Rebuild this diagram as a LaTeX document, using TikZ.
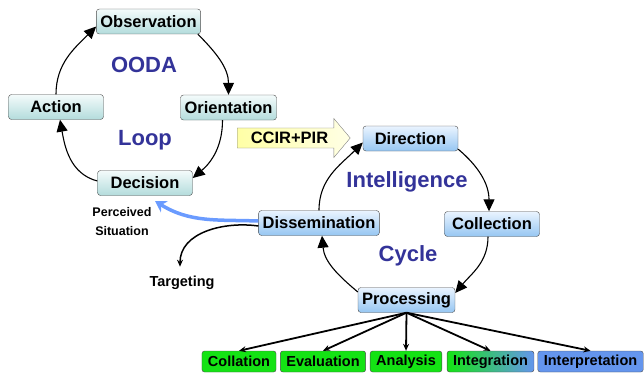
\documentclass[tikz,border=0pt]{standalone}
\usepackage{fontspec}
\setmainfont{Liberation Sans}
\usetikzlibrary{arrows.meta,shapes.arrows}

\definecolor{oodatop}{HTML}{F4FBFB}
\definecolor{oodabot}{HTML}{B3DCDC}
\definecolor{inttop}{HTML}{EAF4FF}
\definecolor{intbot}{HTML}{96C6F2}
\definecolor{grn}{HTML}{14E314}
\definecolor{cblue}{HTML}{6495ED}
\definecolor{titleblue}{HTML}{333399}
\definecolor{percblue}{HTML}{6A9BFF}

\tikzset{
  box/.style={draw=black!70, rounded corners=3pt, minimum height=25pt,
    minimum width=95pt, inner xsep=4pt, inner ysep=2pt,
    font=\fontsize{16.5}{19}\selectfont\bfseries},
  oodabox/.style={box, top color=oodatop, bottom color=oodabot},
  intbox/.style={box, top color=inttop, bottom color=intbot},
  subbox/.style={draw=black!70, rounded corners=2.5pt, minimum height=21pt,
    inner xsep=6pt, inner ysep=1pt, font=\fontsize{14.5}{17}\selectfont\bfseries},
  title/.style={text=titleblue, font=\fontsize{22}{26}\selectfont\bfseries},
  cyc/.style={line width=1.1pt, -{Triangle[length=12pt,width=11pt]}},
  fan/.style={line width=1.8pt, -{Stealth[length=7pt,width=6pt]}},
  note/.style={font=\fontsize{12.5}{19}\selectfont\bfseries, align=center}
}

\begin{document}
\begin{tikzpicture}[x=1pt,y=-1pt]
\useasboundingbox (0,0) rectangle (644,377);

% OODA loop
\node[oodabox] (obs) at (148.5,21.5) {Observation};
\node[oodabox] (act) at (56,107) {Action};
\node[oodabox] (ori) at (228.5,107.5) {Orientation};
\node[oodabox] (dec) at (145,183) {Decision};
\node[title] (ooda) at (144,65) {OODA};
\node[title] (loop) at (145,140) {Loop};

\draw[cyc] (act.north) to[out=90,in=225] ([yshift=-5pt]obs.west);
\draw[cyc] ([xshift=-3pt]obs.south east) to[out=-45,in=90] (ori.north);
\draw[cyc] ([xshift=-6pt]ori.south) to[out=-90,in=40] ([yshift=5pt]dec.east);
\draw[cyc] ([yshift=2pt]dec.west) to[out=165,in=-80] ([xshift=4pt]act.south);

% intelligence cycle
\node[intbox] (dir) at (410.5,138.5) {Direction};
\node[intbox] (col) at (492,224) {Collection};
\node[intbox] (proc) at (406.5,300) {Processing};
\node[intbox] (dis) at (319,223) {Dissemination};
\node[title] (intel) at (407,182) {Intelligence};
\node[title] (cycle) at (408,256) {Cycle};

\draw[cyc] ([yshift=2pt]dir.south east) to[out=-40,in=90] ([xshift=-3pt]col.north);
\draw[cyc] ([xshift=-4pt]col.south) to[out=-90,in=50] ([yshift=7pt]proc.east);
\draw[cyc] ([yshift=8pt]proc.west) to[out=140,in=-85] ([xshift=3pt]dis.south);
\draw[cyc] (dis.north) to[out=90,in=-135] ([yshift=-4pt]dir.west);

% requirements arrow
\node[single arrow, draw=black!50, left color=yellow!35, right color=yellow!10,
  minimum height=113pt, inner ysep=4pt, inner xsep=4pt,
  single arrow head extend=9.5pt, single arrow tip angle=100,
  font=\fontsize{16.5}{19}\selectfont\bfseries] (ccir) at (289.5,138) {CCIR+PIR};

% products of processing
\node[subbox, fill=grn] (colla) at (239,361.5) {Collation};
\node[subbox, fill=grn] (eva) at (323,361.5) {Evaluation};
\node[subbox, fill=grn] (ana) at (406,361.5) {Analysis};
\node[subbox, left color=grn, middle color=grn!55!cblue, right color=cblue] (integ) at (490.5,361.5) {Integration};
\node[subbox, fill=cblue] (interp) at (590.5,361.5) {Interpretation};
\foreach \n in {colla,eva,ana,integ,interp}
  \draw[fan] (proc.south) -- (\n.north);

% outputs of dissemination
\node[note] (perc) at (122,221.5) {Perceived\\Situation};
\coordinate (perctip) at (155,201);
\draw[percblue, line width=3.5pt, -{Stealth[length=11pt,width=13pt]}]
  ([yshift=2pt]dis.west) to[out=178,in=-32] (perctip);
\node[font=\fontsize{14.5}{17}\selectfont\bfseries] (targ) at (182,283) {Targeting};
\draw[line width=1.5pt, -{Stealth[length=7pt,width=6pt]}]
  ([yshift=-3pt]dis.west) to[out=172,in=90] ([xshift=-2pt,yshift=6pt]targ.north);
\end{tikzpicture}
\end{document}
